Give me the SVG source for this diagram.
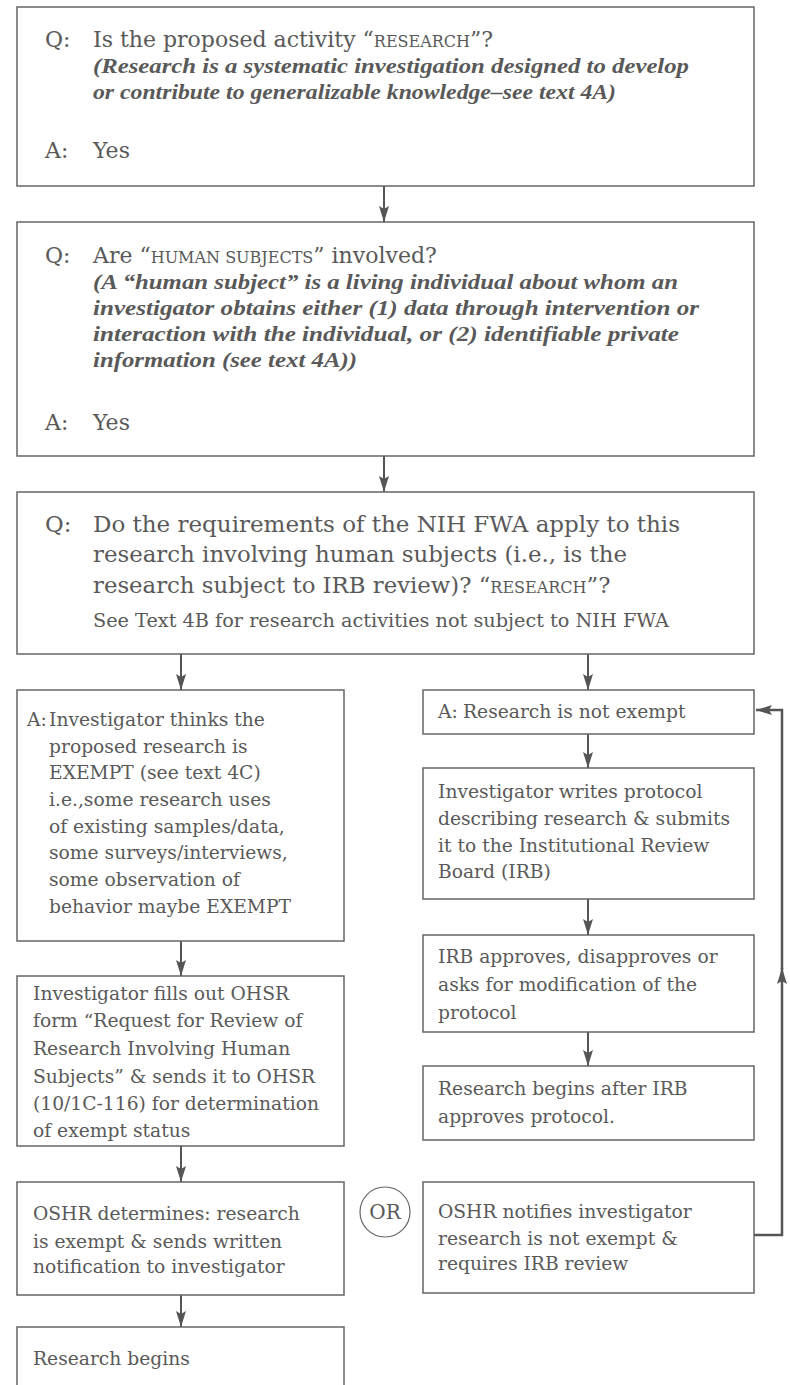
<svg xmlns="http://www.w3.org/2000/svg" width="790" height="1385" viewBox="0 0 790 1385">
<style>
.box{fill:#fff;stroke:#666;stroke-width:1.5}
.t{font-family:"DejaVu Serif","Liberation Serif",serif;fill:#595959}
.q{font-size:22px}
.q3{font-size:22.8px}
.it{font-family:"Liberation Serif",serif;font-size:22px;font-style:italic;font-weight:bold}
.w{font-size:18.7px}
.sm{font-size:19px}
.sc{font-size:16px}
.ar{stroke:#555;stroke-width:2;fill:none;marker-end:url(#ah)}
.fb{stroke:#555;stroke-width:2.5;fill:none;marker-end:url(#ah)}
</style>
<defs>
<marker id="ah" markerUnits="userSpaceOnUse" markerWidth="16" markerHeight="10" viewBox="0 0 16 10" refX="16" refY="5" orient="auto">
<path d="M0,0 L16,5 L0,10 L3,5 Z" fill="#555"/>
</marker>
</defs>
<rect width="790" height="1385" fill="#fff"/>

<g id="connectors">
<line class="ar" x1="384" y1="186" x2="384" y2="222"/>
<line class="ar" x1="384" y1="456" x2="384" y2="492"/>
<line class="ar" x1="181" y1="654" x2="181" y2="690"/>
<line class="ar" x1="588" y1="654" x2="588" y2="690"/>
<line class="ar" x1="588" y1="734" x2="588" y2="768"/>
<line class="ar" x1="588" y1="899" x2="588" y2="935"/>
<line class="ar" x1="588" y1="1032" x2="588" y2="1066"/>
<line class="ar" x1="181" y1="941" x2="181" y2="976"/>
<line class="ar" x1="181" y1="1146" x2="181" y2="1182"/>
<line class="ar" x1="181" y1="1295" x2="181" y2="1327"/>
<path class="fb" d="M754,1235 H782 V968"/>
<path class="fb" d="M782,969 V710 H756"/>
</g>

<g id="q1">
<rect class="box" x="17" y="7" width="737" height="179"/>
<text class="t q" x="45" y="47">Q:</text>
<text class="t q" x="93" y="47">Is the proposed activity “<tspan class="sc">RESEARCH</tspan>”?</text>
<text class="t it" x="93" y="73" textLength="596" lengthAdjust="spacingAndGlyphs">(Research is a systematic investigation designed to develop</text>
<text class="t it" x="93" y="99" textLength="523" lengthAdjust="spacingAndGlyphs">or contribute to generalizable knowledge–see text 4A)</text>
<text class="t q" x="45" y="158">A:</text>
<text class="t q" x="93" y="158">Yes</text>
</g>

<g id="q2">
<rect class="box" x="17" y="222" width="737" height="234"/>
<text class="t q" x="45" y="263">Q:</text>
<text class="t q" x="93" y="263">Are “<tspan class="sc">HUMAN SUBJECTS</tspan>” involved?</text>
<text class="t it" x="93" y="289" textLength="585" lengthAdjust="spacingAndGlyphs">(A “human subject” is a living individual about whom an</text>
<text class="t it" x="93" y="315" textLength="606" lengthAdjust="spacingAndGlyphs">investigator obtains either (1) data through intervention or</text>
<text class="t it" x="93" y="341" textLength="586" lengthAdjust="spacingAndGlyphs">interaction with the individual, or (2) identifiable private</text>
<text class="t it" x="93" y="367" textLength="264" lengthAdjust="spacingAndGlyphs">information (see text 4A))</text>
<text class="t q" x="45" y="430">A:</text>
<text class="t q" x="93" y="430">Yes</text>
</g>

<g id="q3">
<rect class="box" x="17" y="492" width="737" height="162"/>
<text class="t q3" x="45" y="532">Q:</text>
<text class="t q3" x="93" y="532" textLength="587" lengthAdjust="spacingAndGlyphs">Do the requirements of the NIH FWA apply to this</text>
<text class="t q3" x="93" y="562" textLength="534" lengthAdjust="spacingAndGlyphs">research involving human subjects (i.e., is the</text>
<text class="t q3" x="93" y="593">research subject to IRB review)? “<tspan class="sc">RESEARCH</tspan>”?</text>
<text class="t sm" x="93" y="627" textLength="576" lengthAdjust="spacingAndGlyphs">See Text 4B for research activities not subject to NIH FWA</text>
</g>

<g id="exempt">
<rect class="box" x="17" y="690" width="327" height="251"/>
<text class="t w" x="27" y="726">A:</text>
<text class="t w" x="49" y="726">Investigator thinks the</text>
<text class="t w" x="49" y="753">proposed research is</text>
<text class="t w" x="49" y="779">EXEMPT (see text 4C)</text>
<text class="t w" x="49" y="806">i.e.,some research uses</text>
<text class="t w" x="49" y="833">of existing samples/data,</text>
<text class="t w" x="49" y="859">some surveys/interviews,</text>
<text class="t w" x="49" y="886">some observation of</text>
<text class="t w" x="49" y="913">behavior maybe EXEMPT</text>
</g>

<g id="notexempt">
<rect class="box" x="423" y="690" width="331" height="44"/>
<text class="t w" x="438" y="718">A:</text>
<text class="t w" x="463" y="718">Research is not exempt</text>
</g>

<g id="protocol">
<rect class="box" x="423" y="768" width="331" height="131"/>
<text class="t w" x="438" y="798">Investigator writes protocol</text>
<text class="t w" x="438" y="825">describing research &amp; submits</text>
<text class="t w" x="438" y="852">it to the Institutional Review</text>
<text class="t w" x="438" y="878">Board (IRB)</text>
</g>

<g id="irb">
<rect class="box" x="423" y="935" width="331" height="97"/>
<text class="t w" x="438" y="963">IRB approves, disapproves or</text>
<text class="t w" x="438" y="991">asks for modification of the</text>
<text class="t w" x="438" y="1019">protocol</text>
</g>

<g id="irbbegins">
<rect class="box" x="423" y="1066" width="331" height="74"/>
<text class="t w" x="438" y="1095">Research begins after IRB</text>
<text class="t w" x="438" y="1123">approves protocol.</text>
</g>

<g id="fillform">
<rect class="box" x="17" y="976" width="327" height="170"/>
<text class="t w" x="33" y="1000">Investigator fills out OHSR</text>
<text class="t w" x="33" y="1027">form “Request for Review of</text>
<text class="t w" x="33" y="1055">Research Involving Human</text>
<text class="t w" x="33" y="1083">Subjects” &amp; sends it to OHSR</text>
<text class="t w" x="33" y="1110">(10/1C-116) for determination</text>
<text class="t w" x="33" y="1137">of exempt status</text>
</g>

<g id="oshrexempt">
<rect class="box" x="17" y="1182" width="327" height="113"/>
<text class="t w" x="33" y="1220">OSHR determines: research</text>
<text class="t w" x="33" y="1248">is exempt &amp; sends written</text>
<text class="t w" x="33" y="1273">notification to investigator</text>
</g>

<g id="or">
<circle cx="385" cy="1212" r="25" fill="#fff" stroke="#666" stroke-width="1.2"/>
<text class="t" x="385" y="1219" text-anchor="middle" font-size="20">OR</text>
</g>

<g id="oshrnot">
<rect class="box" x="423" y="1182" width="331" height="111"/>
<text class="t w" x="438" y="1218">OSHR notifies investigator</text>
<text class="t w" x="438" y="1245">research is not exempt &amp;</text>
<text class="t w" x="438" y="1270">requires IRB review</text>
</g>

<g id="begins">
<rect class="box" x="17" y="1327" width="327" height="70"/>
<text class="t w" x="33" y="1365">Research begins</text>
</g>
</svg>
